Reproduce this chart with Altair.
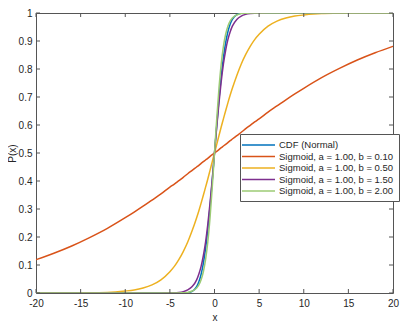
import altair as alt
import pandas as pd

x_vals = [-20, -18, -16, -14, -12, -10, -9, -8, -7, -6, -5, -4.5, -4, -3.5, -3, -2.5, -2, -1.75, -1.5, -1.25, -1, -0.75, -0.5, -0.25,
          0,
          0.25, 0.5, 0.75, 1, 1.25, 1.5, 1.75, 2, 2.5, 3, 3.5, 4, 4.5, 5, 6, 7, 8, 9, 10, 12, 14, 16, 18, 20]

cdf_normal = [0, 0, 0, 0, 0, 0, 0, 0, 0, 0, 0, 0, 0, 0.000, 0.001, 0.006, 0.023, 0.040, 0.067, 0.106, 0.159, 0.227, 0.309, 0.401,
              0.5,
              0.599, 0.691, 0.773, 0.841, 0.894, 0.933, 0.960, 0.977, 0.994, 0.999, 1.000, 1, 1, 1, 1, 1, 1, 1, 1, 1, 1, 1, 1, 1]

sig_b010 = [0.119, 0.142, 0.168, 0.198, 0.231, 0.269, 0.289, 0.310, 0.332, 0.354, 0.378, 0.389, 0.401, 0.413, 0.426, 0.438, 0.450, 0.456, 0.463, 0.469, 0.475, 0.481, 0.488, 0.494,
            0.5,
            0.506, 0.512, 0.519, 0.525, 0.531, 0.537, 0.544, 0.550, 0.562, 0.574, 0.587, 0.599, 0.611, 0.622, 0.646, 0.668, 0.690, 0.711, 0.731, 0.769, 0.802, 0.832, 0.858, 0.881]

sig_b050 = [0.000, 0.000, 0.000, 0.001, 0.002, 0.007, 0.011, 0.018, 0.029, 0.047, 0.076, 0.095, 0.119, 0.148, 0.182, 0.223, 0.269, 0.294, 0.321, 0.349, 0.378, 0.407, 0.438, 0.469,
            0.5,
            0.531, 0.562, 0.593, 0.622, 0.651, 0.679, 0.706, 0.731, 0.777, 0.818, 0.852, 0.881, 0.905, 0.924, 0.953, 0.971, 0.982, 0.989, 0.993, 0.998, 0.999, 1.000, 1.000, 1.000]

sig_b150 = [0, 0, 0, 0, 0, 0, 0, 0, 0, 0.000, 0.001, 0.001, 0.002, 0.005, 0.011, 0.023, 0.047, 0.068, 0.095, 0.133, 0.182, 0.245, 0.321, 0.407,
            0.5,
            0.593, 0.679, 0.755, 0.818, 0.867, 0.905, 0.932, 0.953, 0.977, 0.989, 0.995, 0.998, 0.999, 0.999, 1, 1, 1, 1, 1, 1, 1, 1, 1, 1]

sig_b200 = [0, 0, 0, 0, 0, 0, 0, 0, 0, 0, 0, 0, 0.000, 0.001, 0.002, 0.007, 0.018, 0.029, 0.047, 0.076, 0.119, 0.182, 0.269, 0.378,
            0.5,
            0.622, 0.731, 0.818, 0.881, 0.924, 0.953, 0.971, 0.982, 0.993, 0.998, 0.999, 1.000, 1, 1, 1, 1, 1, 1, 1, 1, 1, 1, 1, 1]

series_names = ["CDF (Normal)",
                "Sigmoid, a = 1.00, b = 0.10",
                "Sigmoid, a = 1.00, b = 0.50",
                "Sigmoid, a = 1.00, b = 1.50",
                "Sigmoid, a = 1.00, b = 2.00"]
series_colors = ["#0072BD", "#D95319", "#EDB120", "#7E2F8E", "#9CCB74"]

x_ticks = [-20, -15, -10, -5, 0, 5, 10, 15, 20]
y_ticks = [0, 0.1, 0.2, 0.3, 0.4, 0.5, 0.6, 0.7, 0.8, 0.9, 1]

series_values = [cdf_normal, sig_b010, sig_b050, sig_b150, sig_b200]
rows = []
for name, vals in zip(series_names, series_values):
    for i, (xv, yv) in enumerate(zip(x_vals, vals)):
        rows.append({"x": xv, "y": yv, "series": name, "order": i})
df = pd.DataFrame(rows)

W, H = 357, 280
FONT = "Liberation Sans"
AX = "#555555"
TXT = "#262626"

xscale = alt.Scale(domain=[-20, 20], nice=False, zero=False)
yscale = alt.Scale(domain=[0, 1], nice=False, zero=False)

xaxis = alt.Axis(title="x", values=x_ticks, labelExpr="datum.value + ''",
                 domain=False, ticks=False, grid=False, labelPadding=5,
                 titlePadding=4, labelFontSize=10, titleFontSize=10,
                 labelFont=FONT, titleFont=FONT, labelColor=TXT, titleColor=TXT,
                 titleFontWeight="normal", labelFlush=False, labelOverlap=False)
yaxis = alt.Axis(title="P(x)", values=y_ticks, labelExpr="datum.value + ''",
                 domain=False, ticks=False, grid=False, labelPadding=4,
                 labelFontSize=10, titleFontSize=10,
                 labelFont=FONT, titleFont=FONT, labelColor=TXT, titleColor=TXT,
                 titleFontWeight="normal", titleX=-24, titleBaseline="middle",
                 labelFlush=False, labelOverlap=False)

lines = alt.Chart(df).mark_line(strokeWidth=1.5, interpolate="monotone", clip=True).encode(
    x=alt.X("x:Q", scale=xscale, axis=xaxis),
    y=alt.Y("y:Q", scale=yscale, axis=yaxis),
    color=alt.Color("series:N",
                    scale=alt.Scale(domain=series_names, range=series_colors),
                    legend=alt.Legend(title=None, orient="none", legendX=204, legendY=121,
                                      fillColor="white", strokeColor=AX, padding=5,
                                      symbolType="M-1.8,0H4.8", symbolSize=100,
                                      symbolStrokeWidth=1.5, labelOffset=22,
                                      labelFontSize=9.5, labelFont=FONT, labelColor=TXT,
                                      rowPadding=0.5, cornerRadius=0, labelLimit=300)),
    order="order:Q",
)

xt = pd.DataFrame({"t": x_ticks})
yt = pd.DataFrame({"t": y_ticks})

tick_bottom = alt.Chart(xt).mark_rule(color=AX, strokeWidth=1).encode(
    x=alt.X("t:Q", scale=xscale, axis=xaxis), y=alt.value(H), y2=alt.value(H - 4))
tick_top = alt.Chart(xt).mark_rule(color=AX, strokeWidth=1).encode(
    x=alt.X("t:Q", scale=xscale, axis=xaxis), y=alt.value(0), y2=alt.value(4))
tick_left = alt.Chart(yt).mark_rule(color=AX, strokeWidth=1).encode(
    y=alt.Y("t:Q", scale=yscale, axis=yaxis), x=alt.value(0), x2=alt.value(4))
tick_right = alt.Chart(yt).mark_rule(color=AX, strokeWidth=1).encode(
    y=alt.Y("t:Q", scale=yscale, axis=yaxis), x=alt.value(W), x2=alt.value(W - 4))

chart = alt.layer(lines, tick_bottom, tick_top, tick_left, tick_right).properties(
    width=W, height=H,
    autosize=alt.AutoSizeParams(type="none"),
    padding={"left": 28, "top": 5, "right": 7, "bottom": 28},
    background="white",
).configure_view(stroke=AX, strokeWidth=1)

chart.save("out.html", embed_options={"renderer": "svg", "actions": False})
